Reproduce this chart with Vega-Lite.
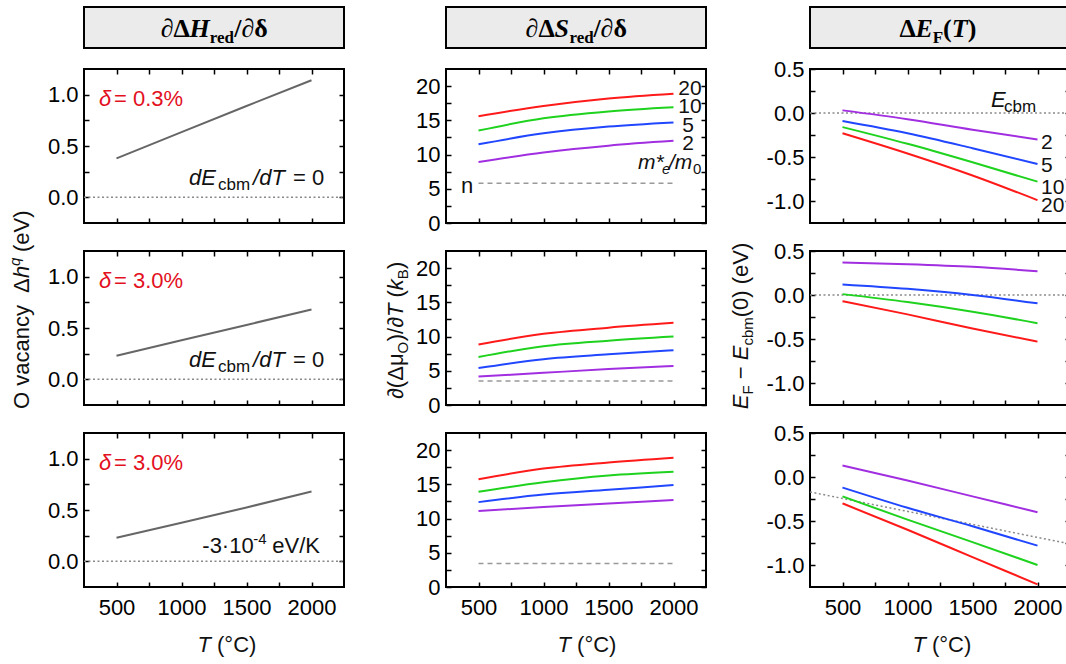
{
 "$schema": "https://vega.github.io/schema/vega-lite/v6.json",
 "padding": {"left": 7, "top": 6, "right": 5, "bottom": 5},
 "background": "white",
 "config": {
  "view": {"stroke": "#000", "strokeWidth": 2},
  "axis": {"domain": false, "grid": false, "tickSize": -5, "tickColor": "#000", "tickWidth": 1.5, "labelFont": "Liberation Sans", "labelFontSize": 22, "labelColor": "#000", "labelOverlap": false},
  "axisX": {"labelPadding": 15},
  "axisY": {"labelPadding": 11},
  "text": {"font": "Liberation Sans", "fontSize": 22}
 },
 "datasets": {
  "curves": [
   {"p":"H1","s":"h","T":500,"v":0.38},{"p":"H1","s":"h","T":1000,"v":0.635},{"p":"H1","s":"h","T":1500,"v":0.89},{"p":"H1","s":"h","T":2000,"v":1.14},
   {"p":"H2","s":"h","T":500,"v":0.23},{"p":"H2","s":"h","T":1000,"v":0.38},{"p":"H2","s":"h","T":1500,"v":0.53},{"p":"H2","s":"h","T":2000,"v":0.68},
   {"p":"H3","s":"h","T":500,"v":0.23},{"p":"H3","s":"h","T":1000,"v":0.375},{"p":"H3","s":"h","T":1500,"v":0.525},{"p":"H3","s":"h","T":2000,"v":0.68},
   {"p":"S1","s":"20","T":500,"v":15.6},{"p":"S1","s":"20","T":1000,"v":17.1},{"p":"S1","s":"20","T":1500,"v":18.2},{"p":"S1","s":"20","T":2000,"v":18.9},
   {"p":"S1","s":"10","T":500,"v":13.5},{"p":"S1","s":"10","T":1000,"v":15.3},{"p":"S1","s":"10","T":1500,"v":16.3},{"p":"S1","s":"10","T":2000,"v":16.9},
   {"p":"S1","s":"5","T":500,"v":11.5},{"p":"S1","s":"5","T":1000,"v":13.1},{"p":"S1","s":"5","T":1500,"v":14.1},{"p":"S1","s":"5","T":2000,"v":14.7},
   {"p":"S1","s":"2","T":500,"v":8.9},{"p":"S1","s":"2","T":1000,"v":10.3},{"p":"S1","s":"2","T":1500,"v":11.3},{"p":"S1","s":"2","T":2000,"v":12.0},
   {"p":"S2","s":"20","T":500,"v":8.85},{"p":"S2","s":"20","T":1000,"v":10.4},{"p":"S2","s":"20","T":1500,"v":11.3},{"p":"S2","s":"20","T":2000,"v":12.0},
   {"p":"S2","s":"10","T":500,"v":7.0},{"p":"S2","s":"10","T":1000,"v":8.6},{"p":"S2","s":"10","T":1500,"v":9.4},{"p":"S2","s":"10","T":2000,"v":10.0},
   {"p":"S2","s":"5","T":500,"v":5.4},{"p":"S2","s":"5","T":1000,"v":6.7},{"p":"S2","s":"5","T":1500,"v":7.4},{"p":"S2","s":"5","T":2000,"v":8.0},
   {"p":"S2","s":"2","T":500,"v":4.15},{"p":"S2","s":"2","T":1000,"v":4.7},{"p":"S2","s":"2","T":1500,"v":5.25},{"p":"S2","s":"2","T":2000,"v":5.7},
   {"p":"S3","s":"20","T":500,"v":15.75},{"p":"S3","s":"20","T":1000,"v":17.3},{"p":"S3","s":"20","T":1500,"v":18.2},{"p":"S3","s":"20","T":2000,"v":18.9},
   {"p":"S3","s":"10","T":500,"v":13.9},{"p":"S3","s":"10","T":1000,"v":15.3},{"p":"S3","s":"10","T":1500,"v":16.3},{"p":"S3","s":"10","T":2000,"v":16.85},
   {"p":"S3","s":"5","T":500,"v":12.4},{"p":"S3","s":"5","T":1000,"v":13.5},{"p":"S3","s":"5","T":1500,"v":14.2},{"p":"S3","s":"5","T":2000,"v":14.9},
   {"p":"S3","s":"2","T":500,"v":11.1},{"p":"S3","s":"2","T":1000,"v":11.7},{"p":"S3","s":"2","T":1500,"v":12.2},{"p":"S3","s":"2","T":2000,"v":12.7},
   {"p":"E1","s":"2","T":500,"v":0.03},{"p":"E1","s":"2","T":1000,"v":-0.07},{"p":"E1","s":"2","T":1500,"v":-0.19},{"p":"E1","s":"2","T":2000,"v":-0.30},
   {"p":"E1","s":"5","T":500,"v":-0.09},{"p":"E1","s":"5","T":1000,"v":-0.23},{"p":"E1","s":"5","T":1500,"v":-0.40},{"p":"E1","s":"5","T":2000,"v":-0.58},
   {"p":"E1","s":"10","T":500,"v":-0.16},{"p":"E1","s":"10","T":1000,"v":-0.35},{"p":"E1","s":"10","T":1500,"v":-0.56},{"p":"E1","s":"10","T":2000,"v":-0.78},
   {"p":"E1","s":"20","T":500,"v":-0.23},{"p":"E1","s":"20","T":1000,"v":-0.46},{"p":"E1","s":"20","T":1500,"v":-0.71},{"p":"E1","s":"20","T":2000,"v":-0.99},
   {"p":"E2","s":"2","T":500,"v":0.37},{"p":"E2","s":"2","T":1000,"v":0.35},{"p":"E2","s":"2","T":1500,"v":0.32},{"p":"E2","s":"2","T":2000,"v":0.27},
   {"p":"E2","s":"5","T":500,"v":0.12},{"p":"E2","s":"5","T":1000,"v":0.07},{"p":"E2","s":"5","T":1500,"v":0.0},{"p":"E2","s":"5","T":2000,"v":-0.095},
   {"p":"E2","s":"10","T":500,"v":0.01},{"p":"E2","s":"10","T":1000,"v":-0.08},{"p":"E2","s":"10","T":1500,"v":-0.19},{"p":"E2","s":"10","T":2000,"v":-0.32},
   {"p":"E2","s":"20","T":500,"v":-0.07},{"p":"E2","s":"20","T":1000,"v":-0.22},{"p":"E2","s":"20","T":1500,"v":-0.38},{"p":"E2","s":"20","T":2000,"v":-0.53},
   {"p":"E3","s":"2","T":500,"v":0.13},{"p":"E3","s":"2","T":1000,"v":-0.04},{"p":"E3","s":"2","T":1500,"v":-0.22},{"p":"E3","s":"2","T":2000,"v":-0.40},
   {"p":"E3","s":"5","T":500,"v":-0.12},{"p":"E3","s":"5","T":1000,"v":-0.35},{"p":"E3","s":"5","T":1500,"v":-0.56},{"p":"E3","s":"5","T":2000,"v":-0.78},
   {"p":"E3","s":"10","T":500,"v":-0.22},{"p":"E3","s":"10","T":1000,"v":-0.485},{"p":"E3","s":"10","T":1500,"v":-0.74},{"p":"E3","s":"10","T":2000,"v":-1.0},
   {"p":"E3","s":"20","T":500,"v":-0.30},{"p":"E3","s":"20","T":1000,"v":-0.60},{"p":"E3","s":"20","T":1500,"v":-0.91},{"p":"E3","s":"20","T":2000,"v":-1.22}
  ],
  "refs": [
   {"p":"H1","T":250,"v":0},{"p":"H1","T":2250,"v":0},
   {"p":"H2","T":250,"v":0},{"p":"H2","T":2250,"v":0},
   {"p":"H3","T":250,"v":0},{"p":"H3","T":2250,"v":0},
   {"p":"S1","T":500,"v":5.8},{"p":"S1","T":2000,"v":5.8},
   {"p":"S2","T":500,"v":3.5},{"p":"S2","T":2000,"v":3.5},
   {"p":"S3","T":500,"v":3.45},{"p":"S3","T":2000,"v":3.45},
   {"p":"E1","T":250,"v":0},{"p":"E1","T":2250,"v":0},
   {"p":"E2","T":250,"v":0},{"p":"E2","T":2250,"v":0},
   {"p":"E3","T":250,"v":-0.17},{"p":"E3","T":2250,"v":-0.76}
  ]
 },
 "spacing": 35,
 "hconcat": [
  {"spacing": 21, "bounds": "flush", "vconcat": [
   {"width": 260, "height": 41, "view": {"fill": "#ebebeb", "stroke": "#000", "strokeWidth": 2},
    "data": {"values": [{}]},
    "encoding": {"x": {"datum": 0.5, "type": "quantitative", "scale": {"domain": [0, 1]}, "axis": null}, "y": {"datum": 0.26, "type": "quantitative", "scale": {"domain": [0, 1]}, "axis": null}},
    "layer": [
     {"mark": {"type": "text", "text": "∂Δ", "font": "Liberation Serif", "fontSize": 26, "fontWeight": "bold", "align": "left", "baseline": "alphabetic", "dx": -53.3}},
     {"mark": {"type": "text", "text": "H", "font": "Liberation Serif", "fontSize": 26, "fontWeight": "bold", "fontStyle": "italic", "align": "left", "baseline": "alphabetic", "dx": -24.5}},
     {"mark": {"type": "text", "text": "red", "font": "Liberation Serif", "fontSize": 17, "fontWeight": "bold", "align": "left", "baseline": "alphabetic", "dx": -4.3, "dy": 6}},
     {"mark": {"type": "text", "text": "/∂δ", "font": "Liberation Serif", "fontSize": 26, "fontWeight": "bold", "align": "left", "baseline": "alphabetic", "dx": 20.2}}
    ]},
   {"spacing": 28, "bounds": "flush", "vconcat": [
    {"width": 260, "height": 154, "data": {"values": [{}]},
     "resolve": {"axis": {"x": "independent", "y": "independent"}},
     "layer": [
      {"data": {"name": "refs"}, "transform": [{"filter": "datum.p == 'H1'"}],
       "mark": {"type": "line", "color": "#8a8a8a", "strokeWidth": 1.5, "strokeDash": [2, 2.5]},
       "encoding": {"x": {"field": "T", "type": "quantitative", "scale": {"domain": [250, 2250], "nice": false, "zero": false}, "axis": {"orient": "top", "values": [500,750,1000,1250,1500,1750,2000], "labels": false, "title": null}},
                    "y": {"field": "v", "type": "quantitative", "scale": {"domain": [-0.25, 1.25], "nice": false, "zero": false}, "axis": {"orient": "right", "values": [0,0.25,0.5,0.75,1], "labels": false, "title": null}}}},
      {"data": {"name": "curves"}, "transform": [{"filter": "datum.p == 'H1'"}],
       "mark": {"type": "line", "color": "#666666", "strokeWidth": 2},
       "encoding": {"x": {"field": "T", "type": "quantitative", "axis": {"orient": "bottom", "values": [500,750,1000,1250,1500,1750,2000], "labels": false, "title": null}},
                    "y": {"field": "v", "type": "quantitative", "axis": {"orient": "left", "values": [0,0.25,0.5,0.75,1], "format": ".1f", "labelExpr": "datum.value % 0.5 == 0 ? datum.label : ''", "title": null}}}},
      {"mark": {"type": "text", "text": "δ", "align": "left", "baseline": "middle", "fontStyle": "italic", "color": "#e3101e"}, "encoding": {"x": {"datum": 365, "type": "quantitative", "axis": null}, "y": {"datum": 0.955, "type": "quantitative", "axis": null}}},
      {"mark": {"type": "text", "text": "= 0.3%", "align": "left", "baseline": "middle", "dx": 15, "color": "#e3101e"}, "encoding": {"x": {"datum": 365, "type": "quantitative", "axis": null}, "y": {"datum": 0.955, "type": "quantitative", "axis": null}}},
      {"mark": {"type": "text", "text": "dE", "align": "left", "baseline": "alphabetic", "fontStyle": "italic", "color": "#111"}, "encoding": {"x": {"datum": 1058, "type": "quantitative", "axis": null}, "y": {"datum": 0.125, "type": "quantitative", "axis": null}}},
      {"mark": {"type": "text", "text": "cbm", "align": "left", "baseline": "alphabetic", "fontSize": 17, "dx": 29, "dy": 5, "color": "#111"}, "encoding": {"x": {"datum": 1058, "type": "quantitative", "axis": null}, "y": {"datum": 0.125, "type": "quantitative", "axis": null}}},
      {"mark": {"type": "text", "text": "/dT", "align": "left", "baseline": "alphabetic", "fontStyle": "italic", "dx": 64, "color": "#111"}, "encoding": {"x": {"datum": 1058, "type": "quantitative", "axis": null}, "y": {"datum": 0.125, "type": "quantitative", "axis": null}}},
      {"mark": {"type": "text", "text": "= 0", "align": "left", "baseline": "alphabetic", "dx": 104, "color": "#111"}, "encoding": {"x": {"datum": 1058, "type": "quantitative", "axis": null}, "y": {"datum": 0.125, "type": "quantitative", "axis": null}}}
     ]},
    {"width": 260, "height": 154, "data": {"values": [{}]},
     "resolve": {"axis": {"x": "independent", "y": "independent"}},
     "layer": [
      {"data": {"name": "refs"}, "transform": [{"filter": "datum.p == 'H2'"}],
       "mark": {"type": "line", "color": "#8a8a8a", "strokeWidth": 1.5, "strokeDash": [2, 2.5]},
       "encoding": {"x": {"field": "T", "type": "quantitative", "scale": {"domain": [250, 2250], "nice": false, "zero": false}, "axis": {"orient": "top", "values": [500,750,1000,1250,1500,1750,2000], "labels": false, "title": null}},
                    "y": {"field": "v", "type": "quantitative", "scale": {"domain": [-0.25, 1.25], "nice": false, "zero": false}, "axis": {"orient": "right", "values": [0,0.25,0.5,0.75,1], "labels": false, "title": null}}}},
      {"data": {"name": "curves"}, "transform": [{"filter": "datum.p == 'H2'"}],
       "mark": {"type": "line", "color": "#666666", "strokeWidth": 2},
       "encoding": {"x": {"field": "T", "type": "quantitative", "axis": {"orient": "bottom", "values": [500,750,1000,1250,1500,1750,2000], "labels": false, "title": null}},
                    "y": {"field": "v", "type": "quantitative", "axis": {"orient": "left", "values": [0,0.25,0.5,0.75,1], "format": ".1f", "labelExpr": "datum.value % 0.5 == 0 ? datum.label : ''", "title": null}}}},
      {"mark": {"type": "text", "text": "δ", "align": "left", "baseline": "middle", "fontStyle": "italic", "color": "#e3101e"}, "encoding": {"x": {"datum": 365, "type": "quantitative", "axis": null}, "y": {"datum": 0.955, "type": "quantitative", "axis": null}}},
      {"mark": {"type": "text", "text": "= 3.0%", "align": "left", "baseline": "middle", "dx": 15, "color": "#e3101e"}, "encoding": {"x": {"datum": 365, "type": "quantitative", "axis": null}, "y": {"datum": 0.955, "type": "quantitative", "axis": null}}},
      {"mark": {"type": "text", "text": "dE", "align": "left", "baseline": "alphabetic", "fontStyle": "italic", "color": "#111"}, "encoding": {"x": {"datum": 1058, "type": "quantitative", "axis": null}, "y": {"datum": 0.125, "type": "quantitative", "axis": null}}},
      {"mark": {"type": "text", "text": "cbm", "align": "left", "baseline": "alphabetic", "fontSize": 17, "dx": 29, "dy": 5, "color": "#111"}, "encoding": {"x": {"datum": 1058, "type": "quantitative", "axis": null}, "y": {"datum": 0.125, "type": "quantitative", "axis": null}}},
      {"mark": {"type": "text", "text": "/dT", "align": "left", "baseline": "alphabetic", "fontStyle": "italic", "dx": 64, "color": "#111"}, "encoding": {"x": {"datum": 1058, "type": "quantitative", "axis": null}, "y": {"datum": 0.125, "type": "quantitative", "axis": null}}},
      {"mark": {"type": "text", "text": "= 0", "align": "left", "baseline": "alphabetic", "dx": 104, "color": "#111"}, "encoding": {"x": {"datum": 1058, "type": "quantitative", "axis": null}, "y": {"datum": 0.125, "type": "quantitative", "axis": null}}},
      {"mark": {"type": "text", "text": "O vacancy", "angle": 270, "align": "left", "baseline": "alphabetic", "color": "#111"}, "encoding": {"x": {"datum": -173, "type": "quantitative", "axis": null}, "y": {"datum": -0.289, "type": "quantitative", "axis": null}}},
      {"mark": {"type": "text", "text": "Δ", "angle": 270, "align": "left", "baseline": "alphabetic", "dx": 116, "color": "#111"}, "encoding": {"x": {"datum": -173, "type": "quantitative", "axis": null}, "y": {"datum": -0.289, "type": "quantitative", "axis": null}}},
      {"mark": {"type": "text", "text": "h", "angle": 270, "align": "left", "baseline": "alphabetic", "fontStyle": "italic", "dx": 131, "color": "#111"}, "encoding": {"x": {"datum": -173, "type": "quantitative", "axis": null}, "y": {"datum": -0.289, "type": "quantitative", "axis": null}}},
      {"mark": {"type": "text", "text": "q", "angle": 270, "align": "left", "baseline": "alphabetic", "fontStyle": "italic", "fontSize": 15, "dx": 143, "dy": -9, "color": "#111"}, "encoding": {"x": {"datum": -173, "type": "quantitative", "axis": null}, "y": {"datum": -0.289, "type": "quantitative", "axis": null}}},
      {"mark": {"type": "text", "text": "(eV)", "angle": 270, "align": "left", "baseline": "alphabetic", "dx": 157, "color": "#111"}, "encoding": {"x": {"datum": -173, "type": "quantitative", "axis": null}, "y": {"datum": -0.289, "type": "quantitative", "axis": null}}}
     ]},
    {"width": 260, "height": 154, "data": {"values": [{}]},
     "resolve": {"axis": {"x": "independent", "y": "independent"}},
     "layer": [
      {"data": {"name": "refs"}, "transform": [{"filter": "datum.p == 'H3'"}],
       "mark": {"type": "line", "color": "#8a8a8a", "strokeWidth": 1.5, "strokeDash": [2, 2.5]},
       "encoding": {"x": {"field": "T", "type": "quantitative", "scale": {"domain": [250, 2250], "nice": false, "zero": false}, "axis": {"orient": "top", "values": [500,750,1000,1250,1500,1750,2000], "labels": false, "title": null}},
                    "y": {"field": "v", "type": "quantitative", "scale": {"domain": [-0.25, 1.25], "nice": false, "zero": false}, "axis": {"orient": "right", "values": [0,0.25,0.5,0.75,1], "labels": false, "title": null}}}},
      {"data": {"name": "curves"}, "transform": [{"filter": "datum.p == 'H3'"}],
       "mark": {"type": "line", "color": "#666666", "strokeWidth": 2},
       "encoding": {"x": {"field": "T", "type": "quantitative", "axis": {"orient": "bottom", "values": [500,750,1000,1250,1500,1750,2000], "format": "d", "labelExpr": "datum.value % 500 == 0 ? datum.label : ''", "title": null}},
                    "y": {"field": "v", "type": "quantitative", "axis": {"orient": "left", "values": [0,0.25,0.5,0.75,1], "format": ".1f", "labelExpr": "datum.value % 0.5 == 0 ? datum.label : ''", "title": null}}}},
      {"mark": {"type": "text", "text": "δ", "align": "left", "baseline": "middle", "fontStyle": "italic", "color": "#e3101e"}, "encoding": {"x": {"datum": 365, "type": "quantitative", "axis": null}, "y": {"datum": 0.955, "type": "quantitative", "axis": null}}},
      {"mark": {"type": "text", "text": "= 3.0%", "align": "left", "baseline": "middle", "dx": 15, "color": "#e3101e"}, "encoding": {"x": {"datum": 365, "type": "quantitative", "axis": null}, "y": {"datum": 0.955, "type": "quantitative", "axis": null}}},
      {"mark": {"type": "text", "text": "-3·10", "align": "left", "baseline": "alphabetic", "color": "#111"}, "encoding": {"x": {"datum": 1160, "type": "quantitative", "axis": null}, "y": {"datum": 0.078, "type": "quantitative", "axis": null}}},
      {"mark": {"type": "text", "text": "-4", "align": "left", "baseline": "alphabetic", "fontSize": 15, "dx": 51, "dy": -9, "color": "#111"}, "encoding": {"x": {"datum": 1160, "type": "quantitative", "axis": null}, "y": {"datum": 0.078, "type": "quantitative", "axis": null}}},
      {"mark": {"type": "text", "text": "eV/K", "align": "left", "baseline": "alphabetic", "dx": 70, "color": "#111"}, "encoding": {"x": {"datum": 1160, "type": "quantitative", "axis": null}, "y": {"datum": 0.078, "type": "quantitative", "axis": null}}},
      {"mark": {"type": "text", "text": "T", "align": "right", "baseline": "alphabetic", "fontStyle": "italic", "color": "#111"}, "encoding": {"x": {"datum": 1227, "type": "quantitative", "axis": null}, "y": {"datum": -0.883, "type": "quantitative", "axis": null}}},
      {"mark": {"type": "text", "text": "(°C)", "align": "left", "baseline": "alphabetic", "dx": 6, "color": "#111"}, "encoding": {"x": {"datum": 1227, "type": "quantitative", "axis": null}, "y": {"datum": -0.883, "type": "quantitative", "axis": null}}}
     ]}
   ]}
  ]},
  {"spacing": 20, "hconcat": [
  {"spacing": 21, "bounds": "flush", "vconcat": [
   {"width": 260, "height": 41, "view": {"fill": "#ebebeb", "stroke": "#000", "strokeWidth": 2},
    "data": {"values": [{}]},
    "encoding": {"x": {"datum": 0.5, "type": "quantitative", "scale": {"domain": [0, 1]}, "axis": null}, "y": {"datum": 0.26, "type": "quantitative", "scale": {"domain": [0, 1]}, "axis": null}},
    "layer": [
     {"mark": {"type": "text", "text": "∂Δ", "font": "Liberation Serif", "fontSize": 26, "fontWeight": "bold", "align": "left", "baseline": "alphabetic", "dx": -50.4}},
     {"mark": {"type": "text", "text": "S", "font": "Liberation Serif", "fontSize": 26, "fontWeight": "bold", "fontStyle": "italic", "align": "left", "baseline": "alphabetic", "dx": -21.6}},
     {"mark": {"type": "text", "text": "red", "font": "Liberation Serif", "fontSize": 17, "fontWeight": "bold", "align": "left", "baseline": "alphabetic", "dx": -6.6, "dy": 6}},
     {"mark": {"type": "text", "text": "/∂δ", "font": "Liberation Serif", "fontSize": 26, "fontWeight": "bold", "align": "left", "baseline": "alphabetic", "dx": 17.4}}
    ]},
   {"spacing": 28, "bounds": "flush", "vconcat": [
    {"width": 260, "height": 154, "data": {"values": [{}]},
     "resolve": {"axis": {"x": "independent", "y": "independent"}},
     "layer": [
      {"data": {"name": "refs"}, "transform": [{"filter": "datum.p == 'S1'"}],
       "mark": {"type": "line", "color": "#999", "strokeWidth": 1.5, "strokeDash": [5, 4]},
       "encoding": {"x": {"field": "T", "type": "quantitative", "scale": {"domain": [250, 2250], "nice": false, "zero": false}, "axis": {"orient": "top", "values": [500,750,1000,1250,1500,1750,2000], "labels": false, "title": null}},
                    "y": {"field": "v", "type": "quantitative", "scale": {"domain": [0, 22.5], "nice": false, "zero": false}, "axis": {"orient": "right", "values": [0,2.5,5,7.5,10,12.5,15,17.5,20], "labels": false, "title": null}}}},
      {"data": {"name": "curves"}, "transform": [{"filter": "datum.p == 'S1'"}],
       "mark": {"type": "line", "strokeWidth": 2, "interpolate": "monotone"},
       "encoding": {"x": {"field": "T", "type": "quantitative", "axis": {"orient": "bottom", "values": [500,750,1000,1250,1500,1750,2000], "labels": false, "title": null}},
                    "y": {"field": "v", "type": "quantitative", "axis": {"orient": "left", "values": [0,2.5,5,7.5,10,12.5,15,17.5,20], "format": "d", "labelExpr": "datum.value % 5 == 0 ? datum.label : ''", "title": null}},
                    "color": {"field": "s", "type": "nominal", "scale": {"domain": ["2","5","10","20"], "range": ["#a12ee0","#2146ff","#1ed21e","#ff1a1a"]}, "legend": null}}},
      {"mark": {"type": "text", "text": "20", "align": "center", "baseline": "middle", "fontSize": 21, "color": "#111"}, "encoding": {"x": {"datum": 2127, "type": "quantitative", "axis": null}, "y": {"datum": 19.58, "type": "quantitative", "axis": null}}},
      {"mark": {"type": "text", "text": "10", "align": "center", "baseline": "middle", "fontSize": 21, "color": "#111"}, "encoding": {"x": {"datum": 2127, "type": "quantitative", "axis": null}, "y": {"datum": 16.95, "type": "quantitative", "axis": null}}},
      {"mark": {"type": "text", "text": "5", "align": "center", "baseline": "middle", "fontSize": 21, "color": "#111"}, "encoding": {"x": {"datum": 2112, "type": "quantitative", "axis": null}, "y": {"datum": 14.17, "type": "quantitative", "axis": null}}},
      {"mark": {"type": "text", "text": "2", "align": "center", "baseline": "middle", "fontSize": 21, "color": "#111"}, "encoding": {"x": {"datum": 2112, "type": "quantitative", "axis": null}, "y": {"datum": 11.54, "type": "quantitative", "axis": null}}},
      {"mark": {"type": "text", "text": "m*", "align": "left", "baseline": "alphabetic", "fontSize": 21, "fontStyle": "italic", "color": "#111"}, "encoding": {"x": {"datum": 1727, "type": "quantitative", "axis": null}, "y": {"datum": 7.9, "type": "quantitative", "axis": null}}},
      {"mark": {"type": "text", "text": "e", "align": "left", "baseline": "alphabetic", "fontSize": 15, "fontStyle": "italic", "dx": 24, "dy": 5, "color": "#111"}, "encoding": {"x": {"datum": 1727, "type": "quantitative", "axis": null}, "y": {"datum": 7.9, "type": "quantitative", "axis": null}}},
      {"mark": {"type": "text", "text": "/m", "align": "left", "baseline": "alphabetic", "fontSize": 21, "fontStyle": "italic", "dx": 31, "color": "#111"}, "encoding": {"x": {"datum": 1727, "type": "quantitative", "axis": null}, "y": {"datum": 7.9, "type": "quantitative", "axis": null}}},
      {"mark": {"type": "text", "text": "0", "align": "left", "baseline": "alphabetic", "fontSize": 15, "dx": 55, "dy": 5, "color": "#111"}, "encoding": {"x": {"datum": 1727, "type": "quantitative", "axis": null}, "y": {"datum": 7.9, "type": "quantitative", "axis": null}}},
      {"mark": {"type": "text", "text": "n", "align": "center", "baseline": "middle", "color": "#111"}, "encoding": {"x": {"datum": 412, "type": "quantitative", "axis": null}, "y": {"datum": 5.4, "type": "quantitative", "axis": null}}}
     ]},
    {"width": 260, "height": 154, "data": {"values": [{}]},
     "resolve": {"axis": {"x": "independent", "y": "independent"}},
     "layer": [
      {"data": {"name": "refs"}, "transform": [{"filter": "datum.p == 'S2'"}],
       "mark": {"type": "line", "color": "#999", "strokeWidth": 1.5, "strokeDash": [5, 4]},
       "encoding": {"x": {"field": "T", "type": "quantitative", "scale": {"domain": [250, 2250], "nice": false, "zero": false}, "axis": {"orient": "top", "values": [500,750,1000,1250,1500,1750,2000], "labels": false, "title": null}},
                    "y": {"field": "v", "type": "quantitative", "scale": {"domain": [0, 22.5], "nice": false, "zero": false}, "axis": {"orient": "right", "values": [0,2.5,5,7.5,10,12.5,15,17.5,20], "labels": false, "title": null}}}},
      {"data": {"name": "curves"}, "transform": [{"filter": "datum.p == 'S2'"}],
       "mark": {"type": "line", "strokeWidth": 2, "interpolate": "monotone"},
       "encoding": {"x": {"field": "T", "type": "quantitative", "axis": {"orient": "bottom", "values": [500,750,1000,1250,1500,1750,2000], "labels": false, "title": null}},
                    "y": {"field": "v", "type": "quantitative", "axis": {"orient": "left", "values": [0,2.5,5,7.5,10,12.5,15,17.5,20], "format": "d", "labelExpr": "datum.value % 5 == 0 ? datum.label : ''", "title": null}},
                    "color": {"field": "s", "type": "nominal", "scale": {"domain": ["2","5","10","20"], "range": ["#a12ee0","#2146ff","#1ed21e","#ff1a1a"]}, "legend": null}}},
      {"mark": {"type": "text", "text": "∂(Δμ", "angle": 270, "align": "left", "baseline": "alphabetic", "color": "#111"}, "encoding": {"x": {"datum": -81, "type": "quantitative", "axis": null}, "y": {"datum": 0.875, "type": "quantitative", "axis": null}}},
      {"mark": {"type": "text", "text": "O", "angle": 270, "align": "left", "baseline": "alphabetic", "fontSize": 15, "dx": 45.6, "dy": 5, "color": "#111"}, "encoding": {"x": {"datum": -81, "type": "quantitative", "axis": null}, "y": {"datum": 0.875, "type": "quantitative", "axis": null}}},
      {"mark": {"type": "text", "text": ")/∂", "angle": 270, "align": "left", "baseline": "alphabetic", "dx": 57.8, "color": "#111"}, "encoding": {"x": {"datum": -81, "type": "quantitative", "axis": null}, "y": {"datum": 0.875, "type": "quantitative", "axis": null}}},
      {"mark": {"type": "text", "text": "T", "angle": 270, "align": "left", "baseline": "alphabetic", "fontStyle": "italic", "dx": 82.1, "color": "#111"}, "encoding": {"x": {"datum": -81, "type": "quantitative", "axis": null}, "y": {"datum": 0.875, "type": "quantitative", "axis": null}}},
      {"mark": {"type": "text", "text": "(", "angle": 270, "align": "left", "baseline": "alphabetic", "dx": 101.5, "color": "#111"}, "encoding": {"x": {"datum": -81, "type": "quantitative", "axis": null}, "y": {"datum": 0.875, "type": "quantitative", "axis": null}}},
      {"mark": {"type": "text", "text": "k", "angle": 270, "align": "left", "baseline": "alphabetic", "fontStyle": "italic", "dx": 108.8, "color": "#111"}, "encoding": {"x": {"datum": -81, "type": "quantitative", "axis": null}, "y": {"datum": 0.875, "type": "quantitative", "axis": null}}},
      {"mark": {"type": "text", "text": "B", "angle": 270, "align": "left", "baseline": "alphabetic", "fontSize": 15, "dx": 119.8, "dy": 5, "color": "#111"}, "encoding": {"x": {"datum": -81, "type": "quantitative", "axis": null}, "y": {"datum": 0.875, "type": "quantitative", "axis": null}}},
      {"mark": {"type": "text", "text": ")", "angle": 270, "align": "left", "baseline": "alphabetic", "dx": 130, "color": "#111"}, "encoding": {"x": {"datum": -81, "type": "quantitative", "axis": null}, "y": {"datum": 0.875, "type": "quantitative", "axis": null}}}
     ]},
    {"width": 260, "height": 154, "data": {"values": [{}]},
     "resolve": {"axis": {"x": "independent", "y": "independent"}},
     "layer": [
      {"data": {"name": "refs"}, "transform": [{"filter": "datum.p == 'S3'"}],
       "mark": {"type": "line", "color": "#999", "strokeWidth": 1.5, "strokeDash": [5, 4]},
       "encoding": {"x": {"field": "T", "type": "quantitative", "scale": {"domain": [250, 2250], "nice": false, "zero": false}, "axis": {"orient": "top", "values": [500,750,1000,1250,1500,1750,2000], "labels": false, "title": null}},
                    "y": {"field": "v", "type": "quantitative", "scale": {"domain": [0, 22.5], "nice": false, "zero": false}, "axis": {"orient": "right", "values": [0,2.5,5,7.5,10,12.5,15,17.5,20], "labels": false, "title": null}}}},
      {"data": {"name": "curves"}, "transform": [{"filter": "datum.p == 'S3'"}],
       "mark": {"type": "line", "strokeWidth": 2, "interpolate": "monotone"},
       "encoding": {"x": {"field": "T", "type": "quantitative", "axis": {"orient": "bottom", "values": [500,750,1000,1250,1500,1750,2000], "format": "d", "labelExpr": "datum.value % 500 == 0 ? datum.label : ''", "title": null}},
                    "y": {"field": "v", "type": "quantitative", "axis": {"orient": "left", "values": [0,2.5,5,7.5,10,12.5,15,17.5,20], "format": "d", "labelExpr": "datum.value % 5 == 0 ? datum.label : ''", "title": null}},
                    "color": {"field": "s", "type": "nominal", "scale": {"domain": ["2","5","10","20"], "range": ["#a12ee0","#2146ff","#1ed21e","#ff1a1a"]}, "legend": null}}},
      {"mark": {"type": "text", "text": "T", "align": "right", "baseline": "alphabetic", "fontStyle": "italic", "color": "#111"}, "encoding": {"x": {"datum": 1212, "type": "quantitative", "axis": null}, "y": {"datum": -9.5, "type": "quantitative", "axis": null}}},
      {"mark": {"type": "text", "text": "(°C)", "align": "left", "baseline": "alphabetic", "dx": 6, "color": "#111"}, "encoding": {"x": {"datum": 1212, "type": "quantitative", "axis": null}, "y": {"datum": -9.5, "type": "quantitative", "axis": null}}}
     ]}
   ]}
  ]},
  {"spacing": 21, "bounds": "flush", "vconcat": [
   {"width": 260, "height": 41, "view": {"fill": "#ebebeb", "stroke": "#000", "strokeWidth": 2},
    "data": {"values": [{}]},
    "encoding": {"x": {"datum": 0.5, "type": "quantitative", "scale": {"domain": [0, 1]}, "axis": null}, "y": {"datum": 0.26, "type": "quantitative", "scale": {"domain": [0, 1]}, "axis": null}},
    "layer": [
     {"mark": {"type": "text", "text": "Δ", "font": "Liberation Serif", "fontSize": 26, "fontWeight": "bold", "align": "left", "baseline": "alphabetic", "dx": -40.5}},
     {"mark": {"type": "text", "text": "E", "font": "Liberation Serif", "fontSize": 26, "fontWeight": "bold", "fontStyle": "italic", "align": "left", "baseline": "alphabetic", "dx": -24.6}},
     {"mark": {"type": "text", "text": "F", "font": "Liberation Serif", "fontSize": 17, "fontWeight": "bold", "align": "left", "baseline": "alphabetic", "dx": -7.3, "dy": 6}},
     {"mark": {"type": "text", "text": "(", "font": "Liberation Serif", "fontSize": 26, "fontWeight": "bold", "align": "left", "baseline": "alphabetic", "dx": 3.1}},
     {"mark": {"type": "text", "text": "T", "font": "Liberation Serif", "fontSize": 26, "fontWeight": "bold", "fontStyle": "italic", "align": "left", "baseline": "alphabetic", "dx": 11.8}},
     {"mark": {"type": "text", "text": ")", "font": "Liberation Serif", "fontSize": 26, "fontWeight": "bold", "align": "left", "baseline": "alphabetic", "dx": 27.7}}
    ]},
   {"spacing": 28, "bounds": "flush", "vconcat": [
    {"width": 260, "height": 154, "data": {"values": [{}]},
     "resolve": {"axis": {"x": "independent", "y": "independent"}},
     "layer": [
      {"data": {"name": "refs"}, "transform": [{"filter": "datum.p == 'E1'"}],
       "mark": {"type": "line", "color": "#8a8a8a", "strokeWidth": 1.5, "strokeDash": [2, 2.5]},
       "encoding": {"x": {"field": "T", "type": "quantitative", "scale": {"domain": [250, 2250], "nice": false, "zero": false}, "axis": {"orient": "top", "values": [500,750,1000,1250,1500,1750,2000], "labels": false, "title": null}},
                    "y": {"field": "v", "type": "quantitative", "scale": {"domain": [-1.25, 0.5], "nice": false, "zero": false}, "axis": {"orient": "right", "values": [-1,-0.75,-0.5,-0.25,0,0.25,0.5], "labels": false, "title": null}}}},
      {"data": {"name": "curves"}, "transform": [{"filter": "datum.p == 'E1'"}],
       "mark": {"type": "line", "strokeWidth": 2, "interpolate": "monotone"},
       "encoding": {"x": {"field": "T", "type": "quantitative", "axis": {"orient": "bottom", "values": [500,750,1000,1250,1500,1750,2000], "labels": false, "title": null}},
                    "y": {"field": "v", "type": "quantitative", "axis": {"orient": "left", "values": [-1,-0.75,-0.5,-0.25,0,0.25,0.5], "format": ".1f", "labelExpr": "datum.value % 0.5 == 0 ? replace(datum.label, '−', '-') : ''", "title": null}},
                    "color": {"field": "s", "type": "nominal", "scale": {"domain": ["2","5","10","20"], "range": ["#a12ee0","#2146ff","#1ed21e","#ff1a1a"]}, "legend": null}}},
      {"mark": {"type": "text", "text": "E", "align": "left", "baseline": "alphabetic", "fontStyle": "italic", "color": "#111"}, "encoding": {"x": {"datum": 1642, "type": "quantitative", "axis": null}, "y": {"datum": 0.072, "type": "quantitative", "axis": null}}},
      {"mark": {"type": "text", "text": "cbm", "align": "left", "baseline": "alphabetic", "fontSize": 17, "dx": 13, "dy": 5, "color": "#111"}, "encoding": {"x": {"datum": 1642, "type": "quantitative", "axis": null}, "y": {"datum": 0.072, "type": "quantitative", "axis": null}}},
      {"mark": {"type": "text", "text": "2", "align": "left", "baseline": "middle", "fontSize": 21, "color": "#111"}, "encoding": {"x": {"datum": 2027, "type": "quantitative", "axis": null}, "y": {"datum": -0.344, "type": "quantitative", "axis": null}}},
      {"mark": {"type": "text", "text": "5", "align": "left", "baseline": "middle", "fontSize": 21, "color": "#111"}, "encoding": {"x": {"datum": 2027, "type": "quantitative", "axis": null}, "y": {"datum": -0.598, "type": "quantitative", "axis": null}}},
      {"mark": {"type": "text", "text": "10", "align": "left", "baseline": "middle", "fontSize": 21, "color": "#111"}, "encoding": {"x": {"datum": 2027, "type": "quantitative", "axis": null}, "y": {"datum": -0.857, "type": "quantitative", "axis": null}}},
      {"mark": {"type": "text", "text": "20", "align": "left", "baseline": "middle", "fontSize": 21, "color": "#111"}, "encoding": {"x": {"datum": 2027, "type": "quantitative", "axis": null}, "y": {"datum": -1.058, "type": "quantitative", "axis": null}}}
     ]},
    {"width": 260, "height": 154, "data": {"values": [{}]},
     "resolve": {"axis": {"x": "independent", "y": "independent"}},
     "layer": [
      {"data": {"name": "refs"}, "transform": [{"filter": "datum.p == 'E2'"}],
       "mark": {"type": "line", "color": "#8a8a8a", "strokeWidth": 1.5, "strokeDash": [2, 2.5]},
       "encoding": {"x": {"field": "T", "type": "quantitative", "scale": {"domain": [250, 2250], "nice": false, "zero": false}, "axis": {"orient": "top", "values": [500,750,1000,1250,1500,1750,2000], "labels": false, "title": null}},
                    "y": {"field": "v", "type": "quantitative", "scale": {"domain": [-1.25, 0.5], "nice": false, "zero": false}, "axis": {"orient": "right", "values": [-1,-0.75,-0.5,-0.25,0,0.25,0.5], "labels": false, "title": null}}}},
      {"data": {"name": "curves"}, "transform": [{"filter": "datum.p == 'E2'"}],
       "mark": {"type": "line", "strokeWidth": 2, "interpolate": "monotone"},
       "encoding": {"x": {"field": "T", "type": "quantitative", "axis": {"orient": "bottom", "values": [500,750,1000,1250,1500,1750,2000], "labels": false, "title": null}},
                    "y": {"field": "v", "type": "quantitative", "axis": {"orient": "left", "values": [-1,-0.75,-0.5,-0.25,0,0.25,0.5], "format": ".1f", "labelExpr": "datum.value % 0.5 == 0 ? replace(datum.label, '−', '-') : ''", "title": null}},
                    "color": {"field": "s", "type": "nominal", "scale": {"domain": ["2","5","10","20"], "range": ["#a12ee0","#2146ff","#1ed21e","#ff1a1a"]}, "legend": null}}},
      {"mark": {"type": "text", "text": "E", "angle": 270, "align": "left", "baseline": "alphabetic", "fontStyle": "italic", "color": "#111"}, "encoding": {"x": {"datum": -227, "type": "quantitative", "axis": null}, "y": {"datum": -1.299, "type": "quantitative", "axis": null}}},
      {"mark": {"type": "text", "text": "F", "angle": 270, "align": "left", "baseline": "alphabetic", "fontSize": 15, "dx": 14.7, "dy": 5, "color": "#111"}, "encoding": {"x": {"datum": -227, "type": "quantitative", "axis": null}, "y": {"datum": -1.299, "type": "quantitative", "axis": null}}},
      {"mark": {"type": "text", "text": "−", "angle": 270, "align": "left", "baseline": "alphabetic", "dx": 30, "color": "#111"}, "encoding": {"x": {"datum": -227, "type": "quantitative", "axis": null}, "y": {"datum": -1.299, "type": "quantitative", "axis": null}}},
      {"mark": {"type": "text", "text": "E", "angle": 270, "align": "left", "baseline": "alphabetic", "fontStyle": "italic", "dx": 49, "color": "#111"}, "encoding": {"x": {"datum": -227, "type": "quantitative", "axis": null}, "y": {"datum": -1.299, "type": "quantitative", "axis": null}}},
      {"mark": {"type": "text", "text": "cbm", "angle": 270, "align": "left", "baseline": "alphabetic", "fontSize": 15, "dx": 63.7, "dy": 5, "color": "#111"}, "encoding": {"x": {"datum": -227, "type": "quantitative", "axis": null}, "y": {"datum": -1.299, "type": "quantitative", "axis": null}}},
      {"mark": {"type": "text", "text": "(0) (eV)", "angle": 270, "align": "left", "baseline": "alphabetic", "dx": 92, "color": "#111"}, "encoding": {"x": {"datum": -227, "type": "quantitative", "axis": null}, "y": {"datum": -1.299, "type": "quantitative", "axis": null}}}
     ]},
    {"width": 260, "height": 154, "data": {"values": [{}]},
     "resolve": {"axis": {"x": "independent", "y": "independent"}},
     "layer": [
      {"data": {"name": "refs"}, "transform": [{"filter": "datum.p == 'E3'"}],
       "mark": {"type": "line", "color": "#8a8a8a", "strokeWidth": 1.5, "strokeDash": [2, 2.5]},
       "encoding": {"x": {"field": "T", "type": "quantitative", "scale": {"domain": [250, 2250], "nice": false, "zero": false}, "axis": {"orient": "top", "values": [500,750,1000,1250,1500,1750,2000], "labels": false, "title": null}},
                    "y": {"field": "v", "type": "quantitative", "scale": {"domain": [-1.25, 0.5], "nice": false, "zero": false}, "axis": {"orient": "right", "values": [-1,-0.75,-0.5,-0.25,0,0.25,0.5], "labels": false, "title": null}}}},
      {"data": {"name": "curves"}, "transform": [{"filter": "datum.p == 'E3'"}],
       "mark": {"type": "line", "strokeWidth": 2, "interpolate": "monotone"},
       "encoding": {"x": {"field": "T", "type": "quantitative", "axis": {"orient": "bottom", "values": [500,750,1000,1250,1500,1750,2000], "format": "d", "labelExpr": "datum.value % 500 == 0 ? datum.label : ''", "title": null}},
                    "y": {"field": "v", "type": "quantitative", "axis": {"orient": "left", "values": [-1,-0.75,-0.5,-0.25,0,0.25,0.5], "format": ".1f", "labelExpr": "datum.value % 0.5 == 0 ? replace(datum.label, '−', '-') : ''", "title": null}},
                    "color": {"field": "s", "type": "nominal", "scale": {"domain": ["2","5","10","20"], "range": ["#a12ee0","#2146ff","#1ed21e","#ff1a1a"]}, "legend": null}}},
      {"mark": {"type": "text", "text": "T", "align": "right", "baseline": "alphabetic", "fontStyle": "italic", "color": "#111"}, "encoding": {"x": {"datum": 1142, "type": "quantitative", "axis": null}, "y": {"datum": -1.989, "type": "quantitative", "axis": null}}},
      {"mark": {"type": "text", "text": "(°C)", "align": "left", "baseline": "alphabetic", "dx": 6, "color": "#111"}, "encoding": {"x": {"datum": 1142, "type": "quantitative", "axis": null}, "y": {"datum": -1.989, "type": "quantitative", "axis": null}}}
     ]}
   ]}
  ]}
  ]}
 ]
}
